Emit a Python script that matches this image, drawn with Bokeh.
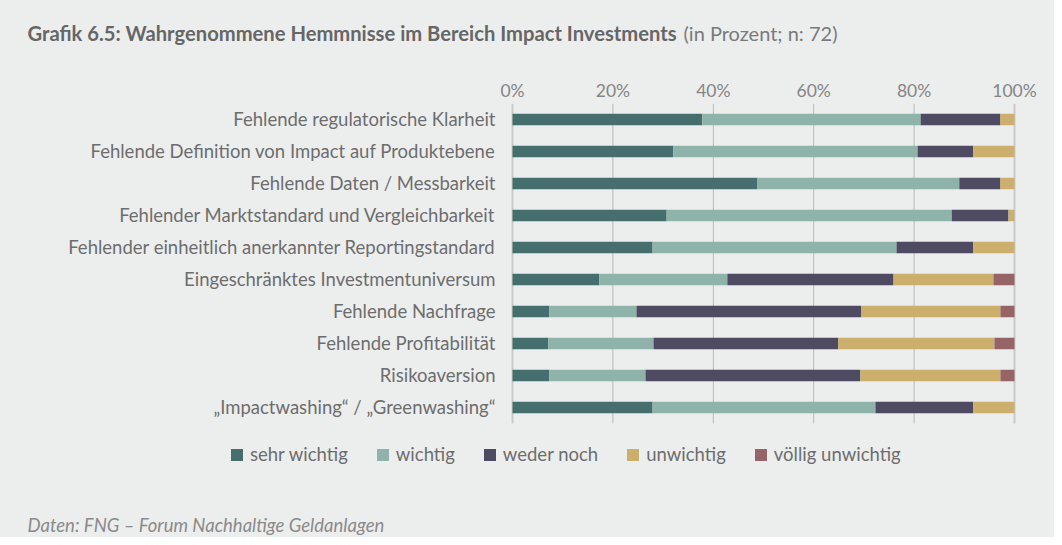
from bokeh.plotting import figure
from bokeh.layouts import column
from bokeh.models import (Range1d, FixedTicker, PrintfTickFormatter,
                          Legend, LegendItem, Label)
from bokeh.core.properties import value
from bokeh.embed import file_html
from bokeh.resources import INLINE

categories = [
    "Fehlende regulatorische Klarheit",
    "Fehlende Definition von Impact auf Produktebene",
    "Fehlende Daten / Messbarkeit",
    "Fehlender Marktstandard und Vergleichbarkeit",
    "Fehlender einheitlich anerkannter Reportingstandard",
    "Eingeschränktes Investmentuniversum",
    "Fehlende Nachfrage",
    "Fehlende Profitabilität",
    "Risikoaversion",
    "„Impactwashing“ / „Greenwashing“",
]
sehr_wichtig = [37.8, 32.0, 48.8, 30.7, 27.9, 17.3, 7.3, 7.1, 7.3, 27.9]
wichtig = [43.5, 48.7, 40.2, 56.8, 48.6, 25.5, 17.4, 21.0, 19.2, 44.4]
weder_noch = [15.9, 11.1, 8.2, 11.3, 15.3, 33.1, 44.8, 36.8, 42.8, 19.5]
unwichtig = [2.8, 8.2, 2.8, 1.2, 8.2, 19.9, 27.7, 31.1, 27.9, 8.2]
voellig_unwichtig = [0.0, 0.0, 0.0, 0.0, 0.0, 4.2, 2.8, 4.0, 2.8, 0.0]

series_names = ["sehr wichtig", "wichtig", "weder noch", "unwichtig", "völlig unwichtig"]
series_keys = ["s1", "s2", "s3", "s4", "s5"]
colors = ["#466e6f", "#8fb3ab", "#4d4a62", "#cdaf6d", "#956466"]
x_ticks = [0, 20, 40, 60, 80, 100]

title_bold = "Grafik 6.5: Wahrgenommene Hemmnisse im Bereich Impact Investments"
title_rest = "(in Prozent; n: 72)"
footer = "Daten: FNG – Forum Nachhaltige Geldanlagen"

BG = "#eceeed"
TXT = "#6d6d6d"
FONT = "Lato"

# layout (pixels)
W = 1054
HEAD = 60                      # height of the title strip
H = 537 - HEAD                 # height of the chart figure
TOP = 103 - HEAD               # top of the bar area inside the chart figure
ROW = 32                       # pixels per category row
PLOT_L, PLOT_R = 512, 1014     # pixel position of 0 % and 100 %
px_per_unit = (PLOT_R - PLOT_L) / 100.0
n = len(categories)

# ---- title strip -------------------------------------------------------
head = figure(width=W, height=HEAD, output_backend="svg", toolbar_location=None,
              x_range=Range1d(0, 1), y_range=Range1d(0, 1), min_border=0)
head.axis.visible = False
head.grid.grid_line_color = None
head.outline_line_color = None
head.background_fill_color = BG
head.border_fill_color = BG
head.add_layout(Label(x=27, y=HEAD - 32, x_units="screen", y_units="screen", text=title_bold,
                      text_font=FONT, text_font_style="bold", text_font_size="20.2px",
                      text_color="#666666", text_baseline="middle"))
head.add_layout(Label(x=683, y=HEAD - 32, x_units="screen", y_units="screen", text=title_rest,
                      text_font=FONT, text_font_size="20px",
                      text_color="#7a7a7a", text_baseline="middle"))

# ---- chart ---------------------------------------------------------------
rows = list(range(n))
data = dict(row=rows, cat=categories, s1=sehr_wichtig, s2=wichtig, s3=weder_noch,
            s4=unwichtig, s5=voellig_unwichtig, zero=[0] * n)

p = figure(width=W, height=H, output_backend="svg", toolbar_location=None,
           x_range=Range1d(-PLOT_L / px_per_unit, 100 + (W - PLOT_R) / px_per_unit),
           y_range=Range1d(-0.5 + (H - TOP) / ROW, -0.5),
           x_axis_location="above",
           min_border_left=0, min_border_right=0, min_border_top=TOP,
           min_border_bottom=0)
p.background_fill_color = BG
p.border_fill_color = BG
p.outline_line_color = None

# grid lines over the bar area only
p.segment(x0=x_ticks[1:-1], x1=x_ticks[1:-1], y0=-0.5, y1=n - 0.5,
          line_color="#b8b8b8", line_width=1)
p.segment(x0=[x_ticks[0], x_ticks[-1]], x1=[x_ticks[0], x_ticks[-1]], y0=-0.5, y1=n - 0.5,
          line_color="#c9c9c9", line_width=2)

renderers = p.hbar_stack(series_keys, y="row", height=0.36, color=colors,
                         line_color=None, source=data)

# category labels, anchored at the 0 % position
p.text(x="zero", y="row", text="cat", source=data, x_offset=-17, y_offset=-1,
       text_align="right", text_baseline="middle", text_font=value(FONT),
       text_font_size="18.5px", text_color=TXT)

# axes
p.xaxis.ticker = FixedTicker(ticks=x_ticks)
p.xaxis.formatter = PrintfTickFormatter(format="%d%%")
p.xaxis.axis_line_color = None
p.xaxis.major_tick_line_color = None
p.xaxis.minor_tick_line_color = None
p.xaxis.major_tick_out = 0
p.xaxis.major_tick_in = 0
p.xaxis.major_label_text_font = FONT
p.xaxis.major_label_text_font_size = "17.5px"
p.xaxis.major_label_text_color = "#858585"
p.xaxis.major_label_standoff = 3
p.yaxis.visible = False
p.xgrid.grid_line_color = None
p.ygrid.grid_line_color = None

legend = Legend(items=[LegendItem(label=s, renderers=[r]) for s, r in zip(series_names, renderers)],
                orientation="horizontal", location=(229, 72),
                glyph_width=15, glyph_height=15, label_height=17,
                label_standoff=6, spacing=27, padding=0, margin=0,
                border_line_color=None, background_fill_alpha=0,
                label_text_font=FONT, label_text_font_size="18.5px",
                label_text_color=TXT)
p.add_layout(legend, "center")

p.add_layout(Label(x=27, y=537 - 524, x_units="screen", y_units="screen", text=footer,
                   text_font=FONT, text_font_style="italic", text_font_size="18.5px",
                   text_color="#8a8a8a", text_baseline="middle"))

layout = column(head, p, spacing=0, styles={"background-color": BG})
open("out.html", "w").write(file_html(layout, INLINE))
